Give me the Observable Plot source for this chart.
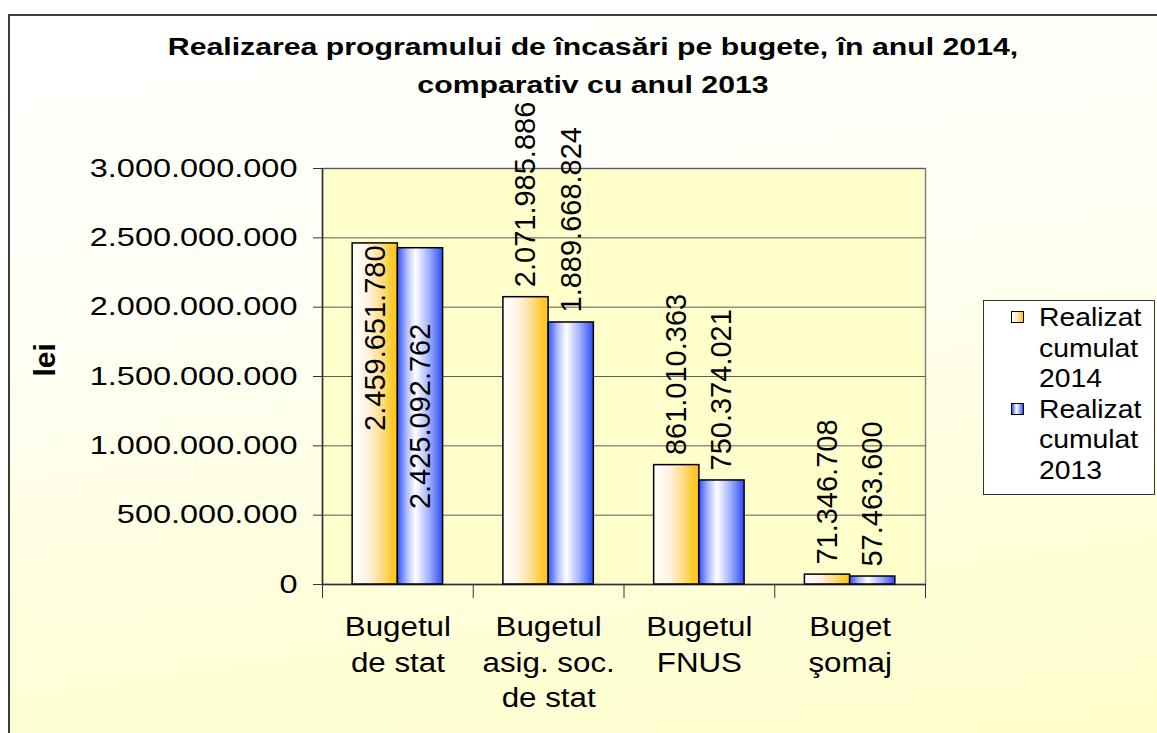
<!DOCTYPE html>
<html>
<head>
<meta charset="utf-8">
<script src="https://cdn.jsdelivr.net/npm/d3@7"></script>
<script src="https://cdn.jsdelivr.net/npm/@observablehq/plot@0.6"></script>
<style>
  html, body { margin: 0; padding: 0; background: #ffffff; width: 1157px; height: 733px; overflow: hidden; }
  body { position: relative; font-family: "Liberation Sans", Arial, sans-serif; }
  #frame { position: absolute; left: 8px; top: 14px; width: 1170px; height: 740px;
    border: 2px solid #3c3c3c; box-sizing: border-box;
    background: linear-gradient(172deg, #ffffff 0%, #fffff6 35%, #ffffd8 75%, #ffffcc 100%); }
  #chart { position: absolute; left: 0; top: 0; }
  #title { position: absolute; left: 93px; top: 28px; width: 1000px; text-align: center;
    font-weight: bold; font-size: 24px; line-height: 38px; color: #000;
    transform: scaleX(1.26); transform-origin: 50% 50%; }
  #legend { position: absolute; left: 983px; top: 300px; width: 172px; height: 195px;
    box-sizing: border-box; border: 1px solid #333; background: #ffffff; }
  .sw { position: absolute; left: 27px; width: 13px; height: 12px; box-sizing: border-box; border: 1.5px solid #000; }
  .lt { position: absolute; left: 55px; font-size: 26px; line-height: 30.5px; color: #000;
    white-space: pre; transform: scaleX(1.09); transform-origin: 0 50%; }
</style>
</head>
<body>
<div id="frame"></div>
<div id="chart"></div>
<div id="title"></div>
<div id="legend"></div>
<script>
// ---- data ----
const titleLines = ["Realizarea programului de încasări pe bugete, în anul 2014,", "comparativ cu anul 2013"];
const categories = ["Bugetul de stat", "Bugetul asig. soc. de stat", "Bugetul FNUS", "Buget şomaj"];
const categoryLabels = ["Bugetul\nde stat", "Bugetul\nasig. soc.\nde stat", "Bugetul\nFNUS", "Buget\nşomaj"];
const seriesNames = ["Realizat\ncumulat\n2014", "Realizat\ncumulat\n2013"];
const values2014 = [2459651780, 2071985886, 861010363, 71346708];
const values2013 = [2425092762, 1889668824, 750374021, 57463600];
const yTicks = [0, 500000000, 1000000000, 1500000000, 2000000000, 2500000000, 3000000000];
const yLabel = "lei";

// ---- styling constants ----
const FONT = "Liberation Sans, Arial, sans-serif";
const barHalf = 0.3;            // width of one bar, in category units
const insideThreshold = 2.3e9;  // labels above this don't fit above the bar
const fills = ["url(#gOrange)", "url(#gBlue)"];

const fmt = d3.formatLocale({decimal: ",", thousands: ".", grouping: [3], currency: ["", ""]}).format(",d");

const rows = [];
[values2014, values2013].forEach((vals, s) => {
  vals.forEach((v, i) => rows.push({
    s, i, category: categories[i], value: v,
    x1: s === 0 ? i + 0.5 - barHalf : i + 0.5,
    x2: s === 0 ? i + 0.5 : i + 0.5 + barHalf,
    xc: s === 0 ? i + 0.5 - barHalf / 2 : i + 0.5 + barHalf / 2
  }));
});
const outside = rows.filter(d => d.value <= insideThreshold);
const insideEnd = rows.filter(d => d.value > insideThreshold && d.s === 0);
const insideCenter = rows.filter(d => d.value > insideThreshold && d.s === 1);

const labelStyle = {fontSize: 29, fill: "#000", rotate: -90, lineAnchor: "middle", text: d => fmt(d.value)};

const chart = Plot.plot({
  width: 1157, height: 733,
  marginLeft: 322, marginRight: 232, marginTop: 168, marginBottom: 149,
  style: {background: "transparent", fontFamily: FONT, overflow: "visible"},
  x: {domain: [0, categories.length], axis: null},
  y: {domain: [0, 3000000000], axis: null},
  marks: [
    Plot.frame({fill: "#FFFFCC", stroke: "#808080", strokeWidth: 1.5}),
    Plot.ruleY(yTicks.filter(v => v > 0), {stroke: "#5c5c5c", strokeWidth: 1}),
    Plot.axisY(yTicks, {tickSize: 9, tickPadding: 16, tickFormat: fmt, fontSize: 26, color: "#000", stroke: "#333", label: null}),
    Plot.axisX(d3.range(categories.length + 1), {tickSize: 14, tickFormat: () => "", stroke: "#333", label: null}),
    Plot.ruleX([0], {stroke: "#333", strokeWidth: 1.5}),
    Plot.ruleY([0], {stroke: "#333", strokeWidth: 1.5}),
    Plot.rect(rows.filter(d => d.s === 0), {x1: "x1", x2: "x2", y1: 0, y2: "value", fill: fills[0], stroke: "#000", strokeWidth: 1.5}),
    Plot.rect(rows.filter(d => d.s === 1), {x1: "x1", x2: "x2", y1: 0, y2: "value", fill: fills[1], stroke: "#000", strokeWidth: 1.5}),
    Plot.text(outside, {...labelStyle, x: "xc", y: "value", textAnchor: "start", dy: -10}),
    Plot.text(insideEnd, {...labelStyle, x: "xc", y: "value", textAnchor: "end", dy: 2}),
    Plot.text(insideCenter, {...labelStyle, x: "xc", y: d => d.value / 2, textAnchor: "middle"}),
    Plot.text(categoryLabels, {x: (d, i) => i + 0.5, y: () => 0, text: d => d, fontSize: 27, lineHeight: 1.3,
      lineAnchor: "top", dy: 27, fill: "#000"}),
    Plot.text([yLabel], {frameAnchor: "left", dx: -277, rotate: -90, fontSize: 30, fontWeight: "bold", fill: "#000"})
  ]
});

// gradients
const svg = d3.select(chart);
const defs = svg.insert("defs", ":first-child");
const go = defs.append("linearGradient").attr("id", "gOrange").attr("x1", 0).attr("x2", 1).attr("y1", 0).attr("y2", 0);
[[0, "#ffffff"], [0.35, "#fff3e2"], [0.65, "#ffdd88"], [0.85, "#ffcc33"], [1, "#ffc21a"]].forEach(([o, c]) => go.append("stop").attr("offset", o).attr("stop-color", c));
const gb = defs.append("linearGradient").attr("id", "gBlue").attr("x1", 0).attr("x2", 1).attr("y1", 0).attr("y2", 0);
[[0, "#3350ff"], [0.2, "#aab8ff"], [0.4, "#ffffff"], [0.7, "#9fb0ff"], [1, "#2f4cf5"]].forEach(([o, c]) => gb.append("stop").attr("offset", o).attr("stop-color", c));

function stretch(selector, s) {
  chart.querySelectorAll(selector).forEach(t => {
    const x = +t.getAttribute("x") || 0, y = +t.getAttribute("y") || 0;
    const tr = t.getAttribute("transform") || "";
    t.setAttribute("transform", `${tr} translate(${x},${y}) scale(${s},1) translate(${-x},${-y})`);
  });
}
stretch('g[aria-label="y-axis tick label"] text', 1.25);
stretch('g[font-size="27"] text', 1.16);

document.getElementById("chart").appendChild(chart);

// title
document.getElementById("title").innerHTML = titleLines.map(l => `<div>${l}</div>`).join("");

// legend
const legend = document.getElementById("legend");
seriesNames.forEach((name, k) => {
  const sw = document.createElement("div");
  sw.className = "sw";
  sw.style.top = (10 + k * 91.5) + "px";
  sw.style.background = k === 0
    ? "linear-gradient(to right, #ffffff, #fff0d8 40%, #ffcc33 85%, #ffc21a)"
    : "linear-gradient(to right, #3350ff, #ffffff 40%, #9fb0ff 70%, #2f4cf5)";
  legend.appendChild(sw);
  const t = document.createElement("div");
  t.className = "lt";
  t.style.top = (1 + k * 91.5) + "px";
  t.textContent = name;
  legend.appendChild(t);
});
</script>
</body>
</html>
